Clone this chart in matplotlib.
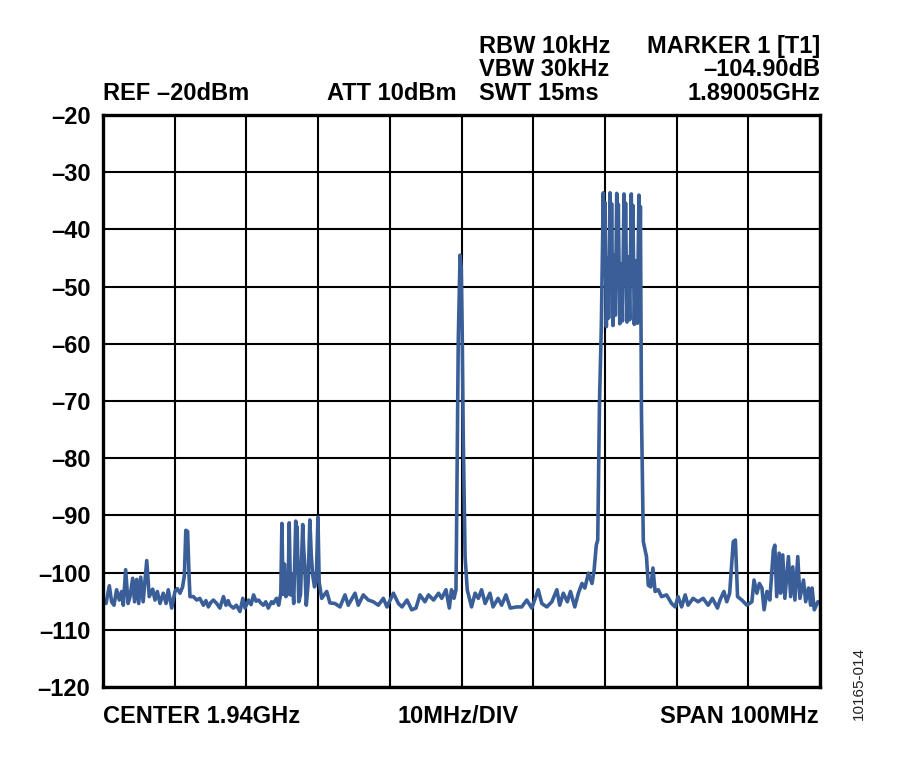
import matplotlib
matplotlib.use("Agg")
import matplotlib.pyplot as plt

# ---- data (frequency offset from start of span in MHz, level in dBm) ----
freq_mhz = [
    0.0, 0.42, 0.88, 1.2, 1.53, 1.9, 2.28, 2.6, 2.83, 3.16, 3.5, 3.77, 4.14, 4.4, 4.7, 4.98,
    5.26, 5.6, 6.1, 6.45, 6.93, 7.25, 7.58, 7.95, 8.4, 8.8, 9.1, 9.58, 10.04, 10.37, 10.74,
    11.1, 11.35, 11.55, 11.8, 12.0, 12.13, 12.6,
    13.07, 13.5, 14.0, 14.35, 14.7, 15.05, 15.4, 15.86, 16.3, 16.8, 17.15, 17.45, 17.7, 18.2,
    18.6, 19.1, 19.5, 19.8, 20.3, 20.65, 21.0, 21.35, 21.7, 22.0, 22.36, 22.7, 23.05, 23.5,
    23.75, 24.2, 24.5, 24.8,
    24.95, 25.12, 25.3, 25.5, 25.8, 25.97, 26.15, 26.35, 26.6, 26.88, 26.97, 27.07, 27.3,
    27.55, 27.85, 28.0, 28.15, 28.35, 28.6, 28.85, 29.05, 29.25, 29.5, 29.75, 29.98, 30.15,
    30.5, 31.2, 31.65, 32.35, 33.05, 33.75, 34.2, 35.15, 35.6, 36.3, 37.0, 37.7, 38.4, 39.1,
    39.6, 40.5, 41.2, 41.7, 42.4, 43.05, 43.65, 44.2, 44.9, 45.4, 46.1, 46.8, 47.24, 47.84,
    48.3, 48.6, 48.95, 49.23,
    49.3, 49.55, 49.8, 49.97, 50.1, 50.25, 50.5, 50.8,
    51.4, 51.9, 52.35, 52.8, 53.3, 53.97, 54.4, 55.1, 55.6, 56.2, 56.8, 57.7, 58.4, 59.1,
    59.8, 60.7, 61.2, 61.9, 62.6, 63.3, 63.7, 64.2, 64.76, 65.2, 65.8, 66.3, 66.8, 67.2,
    67.7, 68.2, 68.5, 68.8, 69.0, 69.25, 69.5,
    69.78, 69.9, 70.0, 70.2, 70.38, 70.52,
    70.71, 70.83, 70.93, 71.12, 71.3, 71.46,
    71.65, 71.77, 71.87, 72.07, 72.27, 72.45,
    72.66, 72.78, 72.88, 73.08, 73.28, 73.46,
    73.68, 73.8, 73.9, 74.1, 74.3, 74.52,
    74.75, 74.85, 74.95, 75.1, 75.36, 75.8, 76.05, 76.4, 76.7, 77.0, 77.45, 77.9,
    78.6, 79.3, 79.8, 80.2, 80.7, 81.2, 81.6, 82.3, 83.0, 83.7, 84.4, 85.0, 85.7,
    86.05, 86.6, 87.0, 87.4, 87.9, 88.2, 88.5, 89.1, 89.8, 90.5, 90.8, 91.2, 91.55,
    91.9, 92.2, 92.6, 93.0, 93.5, 93.7, 93.96, 94.3, 94.5, 94.8, 95.1, 95.6, 95.9,
    96.2, 96.5, 96.9, 97.2, 97.7, 98.0, 98.4, 98.7, 98.9, 99.2, 99.7, 100.0,
]
level_dbm = [
    -104.7, -105.4, -102.3, -105.1, -105.7, -103.0, -104.8, -103.3, -105.7, -99.5, -105.4,
    -104.2, -101.0, -105.1, -101.2, -105.4, -100.8, -105.1, -97.9, -104.2, -102.9, -104.8,
    -103.3, -105.4, -103.6, -105.4, -103.0, -106.2, -103.3, -102.8, -103.6,
    -102.5, -100.5, -92.6, -92.8, -100.5, -104.2, -104.2,
    -104.8, -104.5, -105.7, -104.9, -106.0, -105.2, -104.8, -105.4, -106.2, -104.2, -105.7,
    -104.9, -105.7, -106.2, -105.7, -106.8, -104.5, -106.2, -104.8, -105.6, -103.9, -105.0,
    -104.8, -105.3, -105.7, -105.1, -106.2, -105.1, -105.4, -104.5, -105.7, -103.6,
    -91.4, -103.8, -98.5, -104.2, -103.6, -91.3, -103.9, -100.2, -105.4, -91.0, -95.5, -92.0,
    -105.1, -103.8, -91.6, -96.0, -99.0, -105.7, -102.0, -90.8, -97.0, -100.5, -102.5,
    -101.0, -90.3, -101.7,
    -104.5, -103.3, -105.3, -105.4, -106.0, -103.9, -105.7, -103.6, -105.7, -103.9, -104.8,
    -105.1, -105.7, -104.5, -106.0, -103.6, -105.4, -106.0, -104.8, -106.5, -106.2, -103.9,
    -105.1, -103.9, -104.8, -103.6, -104.5, -103.0, -106.2, -103.0, -104.5, -103.0,
    -94.3, -59.3, -44.5, -46.8, -58.1, -76.8, -97.2, -103.0,
    -106.0, -103.6, -104.5, -103.0, -105.4, -103.6, -106.0, -104.5, -105.7, -103.9, -106.2,
    -106.0, -106.0, -104.8, -106.2, -103.0, -105.4, -106.0, -105.1, -103.0, -105.7, -103.6,
    -105.1, -103.3, -106.0, -103.6, -101.9, -102.7, -100.1, -101.9, -99.5, -95.2, -94.3,
    -70.0, -57.0,
    -33.6, -48.0, -35.3, -57.0, -45.0, -55.5,
    -33.6, -48.5, -35.5, -56.8, -44.5, -55.0,
    -33.7, -49.0, -35.6, -56.5, -46.0, -56.0,
    -33.8, -48.0, -35.4, -56.2, -44.8, -55.8,
    -33.8, -49.5, -35.8, -56.6, -45.5, -56.4,
    -34.0, -49.0, -36.0, -72.1, -94.6, -97.2, -102.2, -102.5, -99.2, -103.3, -103.0, -104.2,
    -103.9, -105.4, -106.0, -104.2, -106.0, -103.9, -105.7, -104.5, -105.1, -104.5, -105.7,
    -104.5, -106.2,
    -104.8, -103.3, -105.1, -103.6, -94.6, -94.3, -104.2, -104.8, -105.7, -105.1, -101.3,
    -103.6, -101.9, -102.7, -106.5, -103.3, -104.8, -96.0, -95.2, -104.2, -96.6, -103.6,
    -96.9, -104.5, -97.2, -104.2, -99.0, -104.8, -97.2, -104.5, -101.3, -105.1, -102.7,
    -105.7, -102.7, -106.5, -105.1, -105.3,
]

y_ticks = [-20, -30, -40, -50, -60, -70, -80, -90, -100, -110, -120]
y_tick_labels = ["–20", "–30", "–40", "–50", "–60", "–70", "–80", "–90", "–100", "–110", "–120"]
x_grid = [0, 10, 20, 30, 40, 50, 60, 70, 80, 90, 100]

plt.rcParams['font.family'] = ['Liberation Sans', 'DejaVu Sans']

fig = plt.figure(figsize=(9, 7.6), dpi=100)
ax = fig.add_axes([103 / 900, 1 - 687 / 760, 717 / 900, 572 / 760])

ax.plot(freq_mhz, level_dbm, color='#3a5e98', lw=2.6, solid_joinstyle='round',
        solid_capstyle='round', zorder=3)

ax.set_xlim(0, 100)
ax.set_ylim(-120, -20)
ax.set_xticks(x_grid)
ax.set_xticklabels([])
ax.set_yticks(y_ticks)
ax.set_yticklabels(y_tick_labels, fontsize=17, fontweight='bold')
ax.tick_params(axis='both', length=0, pad=9)
ax.grid(True, color='black', lw=1.5, zorder=1)
for s in ax.spines.values():
    s.set_linewidth(2.4)
    s.set_color('black')
    s.set_zorder(4)

tkw = dict(fontsize=17, fontweight='bold', color='black')
fig.text(103 / 900, 1 - 100 / 760, "REF –20dBm", ha='left', va='baseline', **tkw)
fig.text(327 / 900, 1 - 100 / 760, "ATT 10dBm", ha='left', va='baseline', **tkw)
fig.text(479 / 900, 1 - 53 / 760, "RBW 10kHz", ha='left', va='baseline', **tkw)
fig.text(479 / 900, 1 - 76.5 / 760, "VBW 30kHz", ha='left', va='baseline', **tkw)
fig.text(479 / 900, 1 - 100 / 760, "SWT 15ms", ha='left', va='baseline', **tkw)
fig.text(820 / 900, 1 - 53 / 760, "MARKER 1 [T1]", ha='right', va='baseline', **tkw)
fig.text(820 / 900, 1 - 76.5 / 760, "–104.90dB", ha='right', va='baseline', **tkw)
fig.text(820 / 900, 1 - 100 / 760, "1.89005GHz", ha='right', va='baseline', **tkw)

fig.text(103 / 900, 1 - 723 / 760, "CENTER 1.94GHz", ha='left', va='baseline', **tkw)
fig.text(458.5 / 900, 1 - 723 / 760, "10MHz/DIV", ha='center', va='baseline', **tkw)
fig.text(819 / 900, 1 - 723 / 760, "SPAN 100MHz", ha='right', va='baseline', **tkw)

fig.text(859 / 900, 1 - 684 / 760, "10165-014", rotation=90, ha='center', va='center',
         fontsize=11, color='#222222')

fig.savefig("out.png", dpi=100)
